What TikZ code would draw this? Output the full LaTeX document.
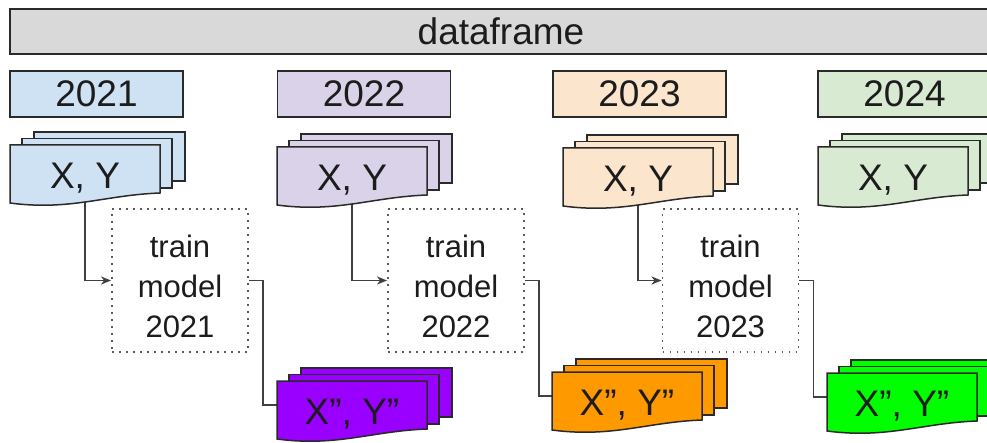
\documentclass[tikz,border=0pt]{standalone}
\usepackage{fontspec}
\setmainfont{Liberation Sans}
\usetikzlibrary{arrows.meta}

\pgfdeclarelayer{bg}
\pgfsetlayers{bg,main}

\definecolor{frameGrey}{HTML}{D9D9D9}
\definecolor{blueLight}{HTML}{CFE2F3}
\definecolor{purpleLight}{HTML}{D9D2E9}
\definecolor{orangeLight}{HTML}{FCE5CD}
\definecolor{greenLight}{HTML}{D9EAD3}
\definecolor{purpleStrong}{HTML}{9900FF}
\definecolor{orangeStrong}{HTML}{FF9900}
\definecolor{greenStrong}{HTML}{00FF00}
\definecolor{edgeDark}{HTML}{2A2A2A}
\definecolor{linkGrey}{HTML}{404040}
\definecolor{dotGrey}{HTML}{5A5A5A}
\definecolor{inkDark}{HTML}{1C1C1C}

\tikzset{
  bigtext/.style={font=\fontsize{37}{44}\selectfont, text=inkDark},
  boxed/.style={draw=edgeDark, line width=1.5pt, inner sep=0pt},
  dfbar/.style={boxed, bigtext, fill=frameGrey, minimum width=982pt, minimum height=45pt},
  yearbox/.style={boxed, bigtext, minimum width=173pt, minimum height=46pt},
  page/.style={draw=edgeDark, line width=1.5pt, line join=miter},
  docframe/.style={inner sep=0pt, minimum width=150pt, minimum height=48pt},
  doclabel/.style={bigtext, inner sep=0pt, anchor=base},
  trainbox/.style={draw=dotGrey, line width=1.9pt, dash pattern=on 1.9pt off 5.1pt,
                   minimum width=136pt, minimum height=143pt, inner sep=0pt},
  trainlabel/.style={font=\fontsize{31}{40}\selectfont, text=inkDark, align=center, inner sep=0pt},
  link/.style={draw=linkGrey, line width=1.7pt},
  linkarrow/.style={link, -{Stealth[length=10pt, width=8pt, inset=3pt]}},
}

% a stack of three pages with a wavy bottom edge on the front one
% #1 name, #2 left x, #3 top y, #4 fill, #5 label
\newcommand{\docstack}[5]{%
  \begin{scope}[shift={(#2,#3)}]
    \filldraw[page, fill=#4] (24,-13) rectangle (175,36);
    \filldraw[page, fill=#4] (12,-6.5) rectangle (162,43);
    \filldraw[page, fill=#4] (0,0) -- (150,0) -- (150,48)
      .. controls (95,50) and (60,66) .. (0,58) -- cycle;
    \node[docframe] (#1) at (75,24) {};
    \node[doclabel] (#1-text) at (75,43.5) {#5};
  \end{scope}
}

\begin{document}
\begin{tikzpicture}[x=1pt, y=-1pt]
  \useasboundingbox (0,0) rectangle (987,443);
  \begin{scope}
    \clip (0,0) rectangle (987,443);

    % the whole table
    \node[dfbar] (df) at (501,31.5) {dataframe};

    % one block per year
    \node[yearbox, fill=blueLight]   (y21) at (96.5,94)  {2021};
    \node[yearbox, fill=purpleLight] (y22) at (364,94)   {2022};
    \node[yearbox, fill=orangeLight] (y23) at (639.5,94) {2023};
    \node[yearbox, fill=greenLight]  (y24) at (904.5,94) {2024};

    % input slices
    \docstack{xy21}{10}{145}{blueLight}{X, Y}
    \docstack{xy22}{277}{147}{purpleLight}{X, Y}
    \docstack{xy23}{563}{148}{orangeLight}{X, Y}
    \docstack{xy24}{818}{147}{greenLight}{X, Y}

    % training steps
    \node[trainbox] (train21) at (180,280.5) {};
    \node[trainbox] (train22) at (456,280.5) {};
    \node[trainbox] (train23) at (730.5,280.5) {};
    \node[trainlabel] (train21-text) at ([yshift=-5.5pt]train21.center) {train\\model\\2021};
    \node[trainlabel] (train22-text) at ([yshift=-5.5pt]train22.center) {train\\model\\2022};
    \node[trainlabel] (train23-text) at ([yshift=-5.5pt]train23.center) {train\\model\\2023};

    % predictions on the following year
    \docstack{out21}{277}{381}{purpleStrong}{X”, Y”}
    \docstack{out22}{552}{372}{orangeStrong}{X”, Y”}
    \docstack{out23}{827}{373}{greenStrong}{X”, Y”}
  \end{scope}

  % connectors run behind the shapes
  \begin{pgfonlayer}{bg}
    \draw[linkarrow] (xy21.south) |- (train21.west);
    \draw[linkarrow] (xy22.south) |- (train22.west);
    \draw[linkarrow] (xy23.south) |- (train23.west);
    \draw[link] (train21.east) -- ++(14,0) |- (out21.west);
    \draw[link] (train22.east) -- ++(14,0) |- (out22.west);
    \draw[link] (train23.east) -- ++(14,0) |- (out23.west);
  \end{pgfonlayer}
\end{tikzpicture}
\end{document}
